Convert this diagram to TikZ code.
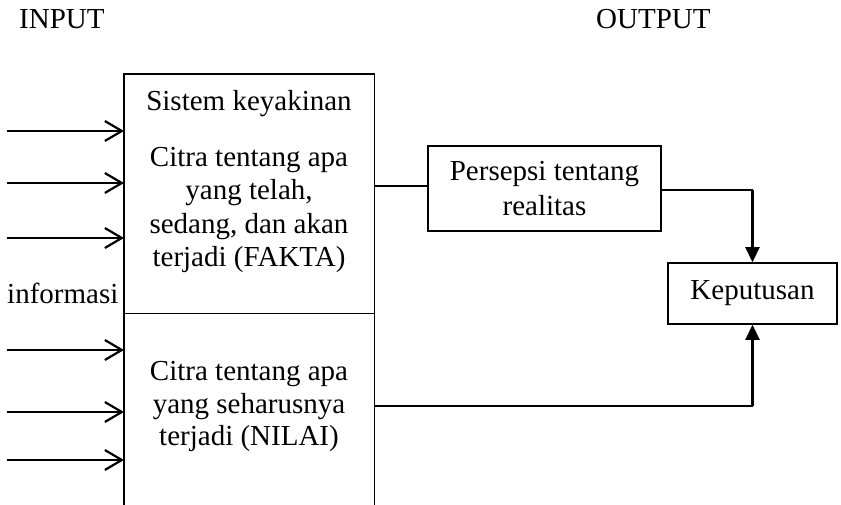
\documentclass[tikz,border=0pt]{standalone}
\usepackage{fontspec}
\setmainfont{Liberation Serif}
\usetikzlibrary{arrows.meta}
\begin{document}
\begin{tikzpicture}[x=1pt,y=-1pt,
  font=\fontsize{29}{33.5}\selectfont,
  txt/.style={anchor=base,inner sep=0pt},
  boxline/.style={line width=1.5pt},
  inarrow/.style={line width=2.2pt,-{Straight Barb[length=17pt,width=20pt,line width=2.2pt]}},
  conn/.style={line width=1.1pt},
  vtip/.style={line width=2.2pt,-{Triangle[length=15pt,width=14pt]}},
  outbox/.style={draw,line width=1.5pt,inner sep=0pt,align=center}]
\useasboundingbox (0,0) rectangle (841,505);
% titles
\node[txt,anchor=base west] (inp) at (19,29) {INPUT};
\node[txt,anchor=base west] (outp) at (596,29) {OUTPUT};
% big system box (open at bottom)
\node[minimum width=250pt,minimum height=431pt,inner sep=0pt,anchor=north west] (sys) at (124,74) {};
\draw[boxline] (sys.south west) -- (sys.north west) -- (sys.north east) -- (sys.south east);
\coordinate (mid) at (0,313.5);
\draw[conn] (sys.west |- mid) -- (sys.east |- mid);
% texts in box
\node[txt] (s0) at (249,111) {Sistem keyakinan};
\node[txt] (f1) at (249,167) {Citra tentang apa};
\node[txt] (f2) at (249,200) {yang telah,};
\node[txt] (f3) at (249,233.5) {sedang, dan akan};
\node[txt] (f4) at (249,267) {terjadi (FAKTA)};
\node[txt] (n1) at (249,380) {Citra tentang apa};
\node[txt] (n2) at (249,413) {yang seharusnya};
\node[txt] (n3) at (249,445.5) {terjadi (NILAI)};
% information label
\node[txt,anchor=base west] (info) at (7,303) {informasi};
% input arrows
\foreach \i/\y in {1/131,2/183,3/238,4/350,5/412,6/460}{
  \coordinate (i\i) at (7,\y);
  \draw[inarrow] (i\i) -- (i\i -| sys.west);
}
% output boxes
\node[outbox,minimum width=233pt,minimum height=85pt] (pers) at (544.5,188.5)
  {\raisebox{-2pt}{Persepsi tentang}\\[1.5pt]\raisebox{-2pt}{realitas}};
\node[outbox,minimum width=169pt,minimum height=61pt] (kep) at (752.5,293.5) {Keputusan};
% connectors
\draw[conn] ([yshift=2.5pt]pers.west -| sys.east) -- ([yshift=2.5pt]pers.west);
\coordinate (tr) at ([yshift=-1.5pt]kep.north |- pers.east);
\draw[conn] ([yshift=-1.5pt]pers.east) -- (tr);
\draw[vtip] (tr) -- (kep.north);
\coordinate (bl) at (0,406);
\coordinate (br) at (kep.south |- bl);
\draw[conn] (sys.east |- bl) -- (br);
\draw[vtip] (br) -- (kep.south);
\end{tikzpicture}
\end{document}
